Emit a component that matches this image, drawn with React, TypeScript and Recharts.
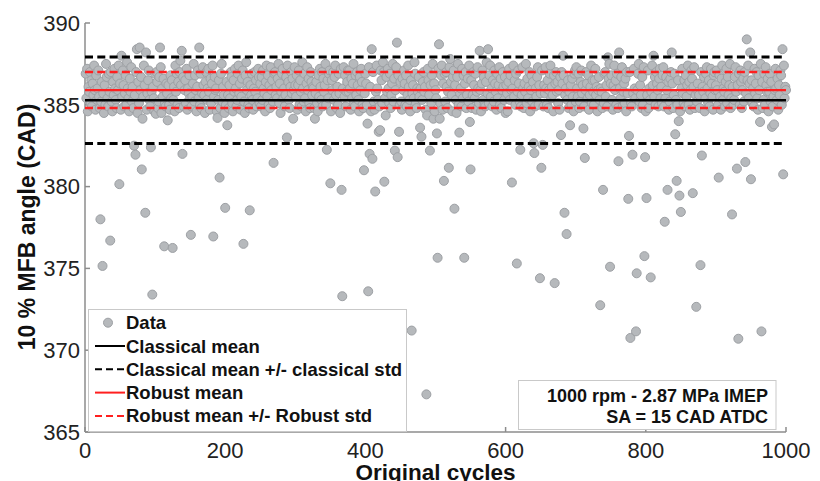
import React from 'react';
import { ScatterChart, Scatter, XAxis, YAxis, ReferenceLine, Label } from 'recharts';

// 10 % MFB angle per cycle (CAD), cycles 1..1000
const bandValues = [
  386.9,385.4,387.2,384.6,386.1,385.8,387.0,385.1,386.5,384.9,386.3,385.6,387.4,385.9,384.7,386.8,385.3,386.0,387.1,385.5,384.8,386.6,385.2,386.4,387.3,
  385.7,384.5,386.2,385.0,387.5,386.7,385.4,384.9,386.9,385.8,386.1,387.0,385.2,384.6,386.4,385.6,387.2,386.0,385.3,384.8,386.7,385.9,387.4,385.1,386.3,
  384.7,386.5,385.5,387.1,386.2,384.9,385.7,386.8,385.0,387.6,386.0,385.4,384.6,386.6,385.8,387.3,385.2,386.1,384.8,386.9,385.6,386.3,387.0,385.3,384.5,
  386.4,385.1,387.2,385.9,386.7,384.8,386.0,385.5,387.4,386.2,385.0,386.8,384.7,385.7,386.5,387.1,385.3,384.9,386.3,385.8,387.5,386.1,385.4,384.6,386.9,
  385.6,387.0,386.4,384.8,385.2,386.7,385.9,387.3,384.5,386.0,385.5,386.6,387.2,385.1,384.9,386.3,385.7,387.6,386.2,385.0,384.7,386.8,385.4,386.5,387.1,
  385.3,386.1,384.6,387.4,385.8,386.9,385.0,386.4,384.8,387.0,385.6,386.2,385.2,387.3,386.7,384.9,385.9,386.5,385.1,387.2,384.7,386.0,385.7,386.8,385.4,
  386.6,384.9,385.5,386.3,387.5,385.2,386.8,385.9,384.6,386.1,387.1,385.4,386.5,385.0,386.9,384.8,385.7,387.3,386.2,385.6,384.5,386.4,387.0,385.3,386.0,
  387.2,385.8,384.7,386.6,385.1,386.3,387.4,384.9,385.5,386.7,385.9,386.0,384.6,387.1,385.3,386.5,385.7,384.8,386.9,387.5,385.2,386.1,385.6,384.5,386.8,
  385.0,386.4,387.3,385.6,384.8,386.2,385.4,387.0,386.7,385.1,384.6,386.5,385.8,387.2,386.0,384.9,385.3,386.9,387.4,385.7,386.3,384.7,385.5,386.6,387.1,
  386.1,385.2,384.5,386.8,387.6,385.9,386.4,385.0,384.8,387.3,386.2,385.6,386.9,385.3,384.7,386.0,387.0,385.8,386.5,384.9,385.4,387.2,386.7,385.1,386.3,
  384.9,386.7,385.3,387.1,386.0,385.7,384.6,386.4,387.4,385.5,386.8,385.0,386.2,384.8,387.3,385.9,386.5,385.2,384.7,386.9,387.0,385.6,386.1,385.4,386.6,
  387.5,385.1,386.3,384.5,385.8,386.9,387.2,385.4,386.0,384.9,385.6,386.7,385.0,387.4,386.4,385.3,384.8,386.1,387.0,385.7,386.6,384.6,385.9,387.3,386.2,
  385.5,386.8,384.7,386.2,387.1,385.0,386.5,385.8,384.9,387.6,386.0,385.2,386.9,385.4,384.6,386.3,387.3,385.9,386.6,385.1,384.8,387.0,386.4,385.6,386.1,
  386.0,384.8,387.3,385.7,386.4,385.1,384.6,386.8,385.5,387.2,386.1,385.3,387.0,384.9,386.6,385.8,386.2,387.5,385.0,384.7,386.5,385.4,386.9,387.1,385.2,
  384.6,386.5,385.9,387.0,385.3,386.7,387.4,385.6,384.8,386.1,385.0,386.9,385.7,384.5,387.2,386.3,385.2,386.0,387.3,385.5,386.8,384.9,385.8,386.4,387.1,
  385.8,387.1,386.0,384.7,386.6,385.4,386.3,387.5,385.1,384.9,386.8,385.6,387.0,386.2,385.3,384.6,386.7,385.9,387.2,386.4,385.0,384.8,386.1,385.7,386.9,
  386.3,385.0,384.8,386.9,387.3,385.6,386.1,384.6,385.9,386.6,387.0,385.2,384.7,386.4,385.8,387.4,386.0,385.3,386.8,384.9,385.5,387.1,386.5,385.1,386.2,
  387.0,386.2,385.4,384.5,386.7,385.8,387.2,386.0,385.1,386.9,384.8,385.6,386.3,387.5,385.2,386.6,384.9,385.9,387.3,386.1,385.5,386.8,384.7,385.0,386.4,
  385.2,384.7,386.6,385.9,387.1,386.3,385.0,386.8,384.9,385.6,387.4,386.1,385.3,384.6,386.5,387.0,385.7,386.2,385.4,387.6,386.9,385.1,384.8,386.0,385.8,
  386.7,385.5,387.3,386.0,384.8,385.3,386.4,387.0,385.8,386.1,384.7,386.9,385.0,387.2,386.5,385.6,384.9,386.2,385.1,386.8,387.5,385.4,386.3,384.6,385.9,
  385.4,386.6,384.9,387.2,385.7,386.0,385.1,386.8,387.4,384.7,386.3,385.5,386.9,385.2,387.0,386.1,384.8,385.8,386.5,387.3,385.0,386.4,385.6,384.6,386.7,
  387.1,385.9,386.2,385.3,384.5,386.7,387.5,385.0,386.4,385.7,386.0,384.9,387.2,385.4,386.8,385.1,386.3,387.0,384.8,385.6,386.6,385.2,387.4,386.1,384.7,
  386.5,384.8,385.6,387.0,386.2,385.4,386.9,384.7,385.8,387.3,386.0,385.1,386.6,385.9,384.6,386.3,387.1,385.3,386.7,385.0,384.9,386.4,387.6,385.7,386.1,
  385.1,386.8,387.4,385.5,386.0,384.9,386.5,385.2,387.1,386.3,385.8,384.7,386.9,385.4,386.2,387.3,385.0,386.6,384.8,385.9,387.0,386.1,385.3,386.7,384.5,
  386.2,385.7,384.6,386.4,387.2,385.3,386.8,385.9,384.8,386.0,387.4,385.5,386.5,385.0,386.9,384.7,385.8,387.1,386.3,385.2,386.6,384.9,385.6,387.3,386.0,
  384.8,386.3,385.8,387.5,385.1,386.6,385.4,386.1,387.0,384.6,385.9,386.8,385.2,386.4,387.2,385.6,384.9,386.0,385.5,386.7,387.3,385.0,386.2,384.7,385.7,
  386.6,387.1,385.3,384.9,386.2,385.7,387.3,386.0,385.0,386.5,384.8,385.9,386.9,387.4,385.4,386.1,385.6,384.6,386.8,385.2,386.3,387.0,385.8,386.4,385.1,
  385.9,384.7,386.7,385.4,387.0,386.3,385.1,386.8,384.9,385.6,386.0,387.2,385.3,386.5,384.8,385.8,387.5,386.2,385.0,386.6,385.5,384.6,386.9,387.1,385.2,
  387.3,386.0,385.5,386.9,384.8,385.2,386.4,387.1,385.7,386.2,385.0,384.9,386.6,385.9,387.0,386.3,385.4,386.8,384.7,385.6,386.1,387.4,385.1,386.5,385.8,
  385.0,386.5,387.2,385.6,386.1,384.6,385.9,386.7,385.3,387.3,386.0,385.8,384.8,386.4,385.1,386.9,387.0,385.5,386.2,384.9,385.7,386.6,387.5,385.2,386.3,
  386.8,385.3,384.7,386.2,387.4,385.9,386.5,385.0,386.9,384.8,385.6,387.1,386.0,385.4,386.7,387.3,384.9,385.8,386.3,385.1,386.6,384.6,387.0,385.7,386.1,
  385.5,387.0,386.3,385.1,384.9,386.8,385.7,387.2,386.0,385.4,386.5,384.7,385.9,386.9,387.5,385.2,386.2,385.6,384.8,386.7,385.0,387.3,386.4,385.8,384.6,
  386.4,385.6,387.1,384.8,386.0,385.3,386.9,385.8,387.4,386.2,384.6,385.5,386.7,385.0,387.0,386.3,385.9,384.9,386.6,387.2,385.4,386.1,385.1,386.8,387.3,
  384.9,386.1,385.4,386.7,385.9,387.3,386.4,384.7,385.2,386.6,387.0,385.7,386.3,384.8,385.6,386.9,387.5,385.3,386.0,385.0,386.5,387.1,385.8,384.6,386.2,
  386.0,387.2,385.7,385.1,386.5,384.9,386.8,385.5,386.2,387.4,385.0,386.4,384.7,385.9,387.1,386.6,385.3,386.1,387.3,384.8,385.6,386.9,385.2,386.3,385.8,
  385.6,384.8,386.4,387.0,385.2,386.1,385.8,386.7,384.6,385.4,386.9,387.3,386.0,385.1,386.5,384.9,385.7,387.2,386.3,385.5,384.7,386.8,387.0,385.9,386.2,
  387.1,385.9,385.0,386.3,386.8,385.5,384.7,386.6,387.4,385.3,386.0,385.8,384.9,386.4,387.2,385.1,386.7,385.6,386.2,387.5,384.8,385.4,386.9,386.1,385.0,
  385.3,386.7,387.3,385.8,384.6,386.2,385.5,386.9,385.0,387.1,386.4,384.8,385.9,386.6,385.2,387.0,386.1,385.7,384.9,386.5,387.4,385.4,386.3,385.1,386.8,
  386.5,385.1,386.0,384.9,387.2,385.7,386.3,387.0,385.4,384.7,386.8,385.9,386.1,387.5,385.6,386.4,384.8,385.3,386.9,385.0,387.3,386.2,385.8,386.6,384.6,
  385.8,386.9,385.2,386.4,387.0,384.9,385.5,386.7,385.9,387.2,386.0,385.3,386.6,384.7,386.2,385.6,387.1,386.8,385.0,385.7,386.3,387.4,385.4,386.1,385.9,
];

// cycles that fall outside the main band, with their angles
const outlierCycles = [
  22, 25, 36, 49, 52, 70, 72, 74, 78, 81, 82, 86, 87, 94, 96, 101, 107, 113, 118, 125,
  136, 138, 139, 151, 163, 183, 189, 192, 200, 203, 226, 235, 269, 288, 297, 328, 345, 350, 366, 367,
  398, 403, 404, 406, 409, 410, 414, 419, 421, 425, 427, 429, 442, 445, 446, 448, 466, 478, 480, 487,
  488, 492, 497, 502, 503, 505, 506, 512, 519, 521, 527, 534, 541, 549, 550, 563, 575, 609, 616, 621,
  640, 641, 649, 651, 653, 670, 679, 682, 684, 687, 692, 711, 713, 735, 739, 746, 749, 761, 762, 775,
  776, 778, 781, 786, 787, 798, 799, 801, 807, 811, 827, 831, 837, 842, 844, 847, 848, 850, 867, 872,
  878, 880, 904, 923, 930, 932, 942, 944, 949, 950, 963, 965, 980, 983, 995, 996,
];
const outlierValues = [
  378.0, 375.15, 376.7, 380.15, 388.0, 382.5, 381.95, 388.4, 388.5, 381.05, 384.15, 378.4, 388.2, 382.4, 373.4, 384.45, 388.5, 376.35, 384.05, 376.25,
  387.7, 388.3, 382.0, 377.05, 388.5, 376.95, 384.2, 380.55, 378.7, 383.75, 376.5, 378.55, 381.45, 383.0, 384.15, 384.15, 382.25, 380.2, 379.8, 373.3,
  381.0, 383.85, 373.6, 382.0, 388.4, 381.7, 379.7, 383.35, 383.45, 387.6, 380.3, 384.35, 382.2, 388.8, 381.8, 383.35, 371.2, 383.6, 383.05, 367.3,
  384.35, 382.2, 384.15, 383.25, 375.65, 388.7, 384.15, 380.35, 381.15, 387.8, 378.65, 383.3, 375.65, 383.95, 381.05, 388.3, 388.4, 380.25, 375.3, 382.25,
  382.65, 382.05, 374.4, 381.15, 382.55, 374.1, 383.15, 388.0, 378.4, 377.1, 383.75, 383.55, 381.75, 372.75, 379.8, 387.9, 375.1, 381.55, 388.2, 379.25,
  383.1, 370.75, 381.95, 371.15, 374.7, 375.75, 381.8, 379.3, 374.45, 388.0, 377.85, 379.8, 388.2, 383.2, 380.35, 384.0, 379.45, 378.45, 379.6, 372.65,
  375.2, 381.9, 380.55, 378.3, 381.1, 370.7, 381.5, 389.0, 388.2, 380.45, 383.95, 371.15, 383.65, 383.8, 388.4, 380.75,
];

const xTicks = [0, 200, 400, 600, 800, 1000];
const yTicks = [365, 370, 375, 380, 385, 390];
const xDomain = [0, 1000];
const yDomain = [365, 390];

const classicalMean = 385.28;
const classicalStd = 2.64;
const robustMean = 385.9;
const robustStd = 1.1;

const legendLabels = [
  'Data',
  'Classical mean',
  'Classical mean +/- classical std',
  'Robust mean',
  'Robust mean +/- Robust std',
];
const noteLines = ['1000 rpm - 2.87 MPa IMEP', 'SA = 15 CAD ATDC'];

const outlierByCycle = new Map(outlierCycles.map((c, i) => [c, outlierValues[i]]));
const cycleData = bandValues.map((v, i) => ({
  cycle: i + 1,
  angle: outlierByCycle.get(i + 1) ?? v,
}));

const FONT = 'Arial, "Liberation Sans", Helvetica, sans-serif';
const AXIS_GRAY = '#8c8c8c';
const RED = '#ff1f1f';
const W = 820;
const H = 481;
const MARGIN = { top: 23, right: 34, bottom: 0, left: 0 };
const Y_AXIS_W = 85;
const X_AXIS_H = 49;

const DataDot = (props: any) => (
  <circle cx={props.cx} cy={props.cy} r={4.5} fill="#b6b9bc" stroke="#9da0a4" strokeWidth={1} />
);
const NoDot = () => <g />;

function LegendBox() {
  const left = 88;
  const top = 309;
  const rowY = (i: number) => 322.7 + i * 23.3;
  const samples = [
    { kind: 'dot' },
    { kind: 'line', color: '#000', dash: undefined },
    { kind: 'line', color: '#000', dash: '7 4' },
    { kind: 'line', color: RED, dash: undefined },
    { kind: 'line', color: RED, dash: '7 4' },
  ];
  return (
    <g>
      <rect x={left + 0.5} y={top + 0.5} width={318} height={122} fill="#fff" stroke="#c9c9c9" strokeWidth={1} />
      {legendLabels.map((label, i) => (
        <g key={label}>
          {samples[i].kind === 'dot' ? (
            <circle cx={108} cy={rowY(i)} r={4.5} fill="#b6b9bc" stroke="#9da0a4" />
          ) : (
            <line
              x1={95}
              x2={125}
              y1={rowY(i)}
              y2={rowY(i)}
              stroke={samples[i].color}
              strokeWidth={2}
              strokeDasharray={samples[i].dash}
            />
          )}
          <text x={126} y={rowY(i) + 6.5} fontSize={18.5} fontWeight="bold" fill="#111" fontFamily={FONT}>
            {label}
          </text>
        </g>
      ))}
    </g>
  );
}

function NoteBox() {
  return (
    <g>
      <rect x={518.5} y={380.5} width={257.5} height={49} fill="#fff" stroke="#c9c9c9" strokeWidth={1} />
      {noteLines.map((line, i) => (
        <text
          key={line}
          x={768}
          y={401.5 + i * 21.7}
          textAnchor="end"
          fontSize={18}
          fontWeight="bold"
          fill="#111"
          fontFamily={FONT}
        >
          {line}
        </text>
      ))}
    </g>
  );
}

function MeanLines() {
  return (
    <>
      <ReferenceLine y={classicalMean + classicalStd} stroke="#000" strokeWidth={3} strokeDasharray="8 4.3" />
      <ReferenceLine y={classicalMean - classicalStd} stroke="#000" strokeWidth={3} strokeDasharray="8 4.3" />
      <ReferenceLine y={robustMean + robustStd} stroke={RED} strokeWidth={2.5} strokeDasharray="8 4.3" />
      <ReferenceLine y={robustMean - robustStd} stroke={RED} strokeWidth={2.5} strokeDasharray="8 4.3" />
      <ReferenceLine y={classicalMean} stroke="#000" strokeWidth={2.5} />
      <ReferenceLine y={robustMean} stroke={RED} strokeWidth={2.2} />
    </>
  );
}

export default function App() {
  const tickStyle = { fill: '#222', fontSize: 22, fontFamily: FONT };
  // the mean / std lines sit in a second chart on top so they are drawn over the dots
  const lineMargin = {
    top: MARGIN.top,
    right: MARGIN.right,
    bottom: MARGIN.bottom + X_AXIS_H,
    left: MARGIN.left + Y_AXIS_W,
  };
  return (
    <div style={{ position: 'absolute', left: 0, top: 0, width: W, height: H, background: '#fff' }}>
      <ScatterChart width={W} height={H} margin={MARGIN}>
        <XAxis
          type="number"
          dataKey="cycle"
          domain={xDomain}
          ticks={xTicks}
          interval={0}
          height={X_AXIS_H}
          tick={tickStyle}
          tickSize={-5}
          tickMargin={15}
          axisLine={{ stroke: AXIS_GRAY, strokeWidth: 1.5 }}
          tickLine={{ stroke: AXIS_GRAY, strokeWidth: 1.5 }}
        >
          <Label
            content={() => (
              <text x={435.5} y={479.5} textAnchor="middle" fontSize={22.5} fontWeight="bold" fill="#111" fontFamily={FONT}>
                Original cycles
              </text>
            )}
          />
        </XAxis>
        <YAxis
          type="number"
          dataKey="angle"
          domain={yDomain}
          ticks={yTicks}
          interval={0}
          allowDataOverflow
          width={Y_AXIS_W}
          tick={tickStyle}
          tickSize={-5}
          tickMargin={10}
          axisLine={{ stroke: AXIS_GRAY, strokeWidth: 1.5 }}
          tickLine={{ stroke: AXIS_GRAY, strokeWidth: 1.5 }}
        >
          <Label
            content={() => (
              <text
                transform="translate(35, 227) rotate(-90)"
                textAnchor="middle"
                fontSize={23}
                fontWeight="bold"
                fill="#111"
                fontFamily={FONT}
              >
                10 % MFB angle (CAD)
              </text>
            )}
          />
        </YAxis>
        <Scatter data={cycleData} shape={DataDot} isAnimationActive={false} />
      </ScatterChart>
      <div style={{ position: 'absolute', left: 0, top: 0, pointerEvents: 'none' }}>
        <ScatterChart width={W} height={H} margin={lineMargin}>
          <XAxis type="number" dataKey="cycle" domain={xDomain} allowDataOverflow hide />
          <YAxis type="number" dataKey="angle" domain={yDomain} allowDataOverflow hide />
          <Scatter data={cycleData} shape={NoDot} isAnimationActive={false} />
          {MeanLines()}
        </ScatterChart>
      </div>
      <svg width={W} height={H} style={{ position: 'absolute', left: 0, top: 0, pointerEvents: 'none' }}>
        <LegendBox />
        <NoteBox />
      </svg>
    </div>
  );
}
